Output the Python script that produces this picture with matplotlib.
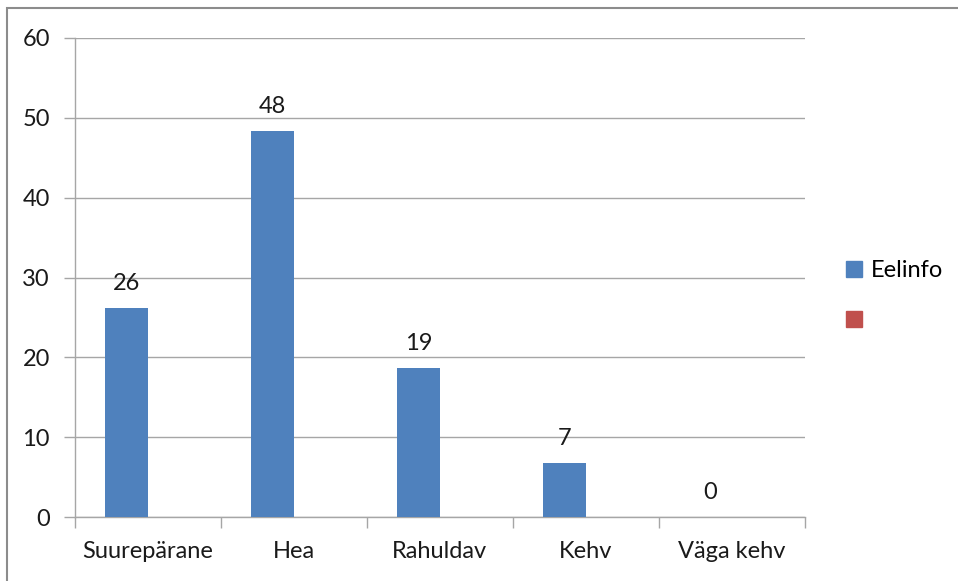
import matplotlib
matplotlib.use("Agg")
import matplotlib.pyplot as plt
import numpy as np
from matplotlib.lines import Line2D
from matplotlib.patches import Rectangle

categories = ["Suurepärane", "Hea", "Rahuldav", "Kehv", "Väga kehv"]
eelinfo = [26.2, 48.4, 18.7, 6.8, 0.0]
second = [0, 0, 0, 0, 0]
yticks = [0, 10, 20, 30, 40, 50, 60]

plt.rcParams['font.family'] = ['Lato', 'DejaVu Sans']

W, H = 958, 581
fig = plt.figure(figsize=(W / 100, H / 100), dpi=100)
ax = fig.add_axes([75 / W, 1 - 517 / H, (805 - 75) / W, (517 - 38) / H])

blue = "#4f81bd"
red = "#c0504d"
grid = "#a6a6a6"
txt = "#1a1a1a"
fs = 17

x = np.arange(len(categories))
bw = 0.295
b1 = ax.bar(x - bw / 2, eelinfo, bw, color=blue, zorder=3)
b2 = ax.bar(x + bw / 2, second, bw, color=red, zorder=3)

for xi, v in zip(x, eelinfo):
    ax.annotate(f"{v:.0f}", (xi - bw / 2, v), xytext=(0, 10), textcoords="offset points",
                ha="center", va="bottom", fontsize=fs, color=txt)

ax.set_xlim(-0.5, len(categories) - 0.5)
ax.set_ylim(0, 60)
ax.set_yticks(yticks)
ax.yaxis.grid(True, color=grid, linewidth=1, zorder=0)
ax.set_axisbelow(True)

ax.set_xticks(x)
ax.set_xticklabels(categories)
ax.set_xticks(np.arange(-0.5, len(categories) + 0.5, 1), minor=True)
ax.tick_params(axis="x", which="major", length=0, pad=17, labelsize=fs, labelcolor=txt)
ax.tick_params(axis="x", which="minor", length=8, color=grid, width=1)
ax.tick_params(axis="y", length=8, color=grid, width=1, pad=10, labelsize=fs, labelcolor=txt)

for s in ["top", "right"]:
    ax.spines[s].set_visible(False)
for s in ["left", "bottom"]:
    ax.spines[s].set_color(grid)
    ax.spines[s].set_linewidth(1)

handles = [Line2D([], [], marker="s", linestyle="none", markersize=12, color=blue),
           Line2D([], [], marker="s", linestyle="none", markersize=12, color=red)]
fig.legend(handles, ["Eelinfo", ""], loc="center left", bbox_to_anchor=(833 / W, 1 - 296 / H),
           frameon=False, fontsize=fs, labelspacing=1.25, handlelength=0.8, handletextpad=0.3,
           borderpad=0)

fig.patches.append(Rectangle((7 / W, -0.1), 1.2, 1 - 8 / H + 0.1, transform=fig.transFigure,
                             fill=False, edgecolor="#8c8c8c", linewidth=1.5))

fig.savefig("out.png", dpi=100)
